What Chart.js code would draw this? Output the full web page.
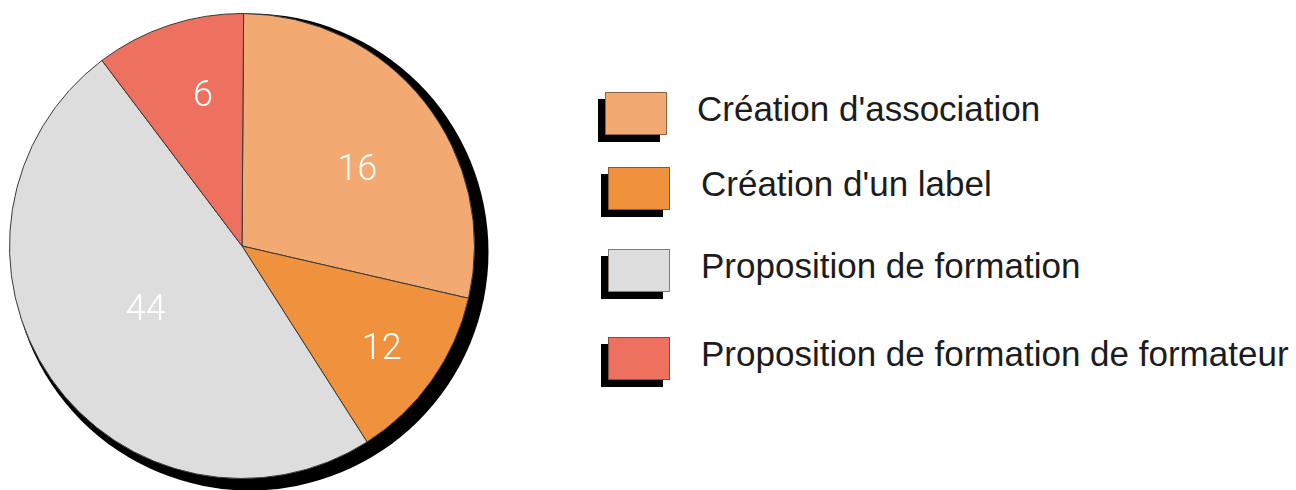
<!DOCTYPE html>
<html>
<head>
<meta charset="utf-8">
<script src="https://cdn.jsdelivr.net/npm/chart.js@4"></script>
<style>
  html, body { margin: 0; padding: 0; background: #ffffff; }
  body { width: 1296px; height: 490px; position: relative; overflow: hidden; }
  #pieWrap { position: absolute; left: 0; top: 0; width: 500px; height: 490px; }
  .lg-box { position: absolute; width: 62px; height: 43px; box-sizing: border-box;
            border: 1px solid rgba(60,40,30,0.55); box-shadow: -7px 7px 0 #000; }
  .lg-text { position: absolute; font-family: "Liberation Sans", Arial, sans-serif; font-size: 35px;
             line-height: 35px; color: #1c1c1c; white-space: nowrap; }
</style>
</head>
<body>
<div id="pieWrap"><canvas id="pie"></canvas></div>
<div id="legend"></div>
<script>
// ---- data ----
const categories = [
  "Création d'association",
  "Création d'un label",
  "Proposition de formation",
  "Proposition de formation de formateur"
];
// printed numbers on the slices
const valueLabels = [16, 12, 44, 6];
// slice sizes as drawn in the reference (share of the circle, %)
const sliceShares = [28.5, 12.35, 48.75, 10.4];
const sliceColors = ["#F2AA72", "#F0913D", "#DDDDDD", "#EE705E"];

// ---- styling (positions of in-slice labels and legend rows) ----
const labelRadiusFrac = [0.60, 0.74, 0.49, 0.68];
const labelAngleNudge = [4, 0.5, 2.4, 4];          // degrees
const legendRowTop = [92, 167, 249, 337];
const legendBoxLeft = [605, 608, 608, 608];
const legendTextLeft = [697, 701, 701, 701];

const shadowPlugin = {
  id: 'pieShadow',
  beforeDatasetsDraw(chart) {
    const arc = chart.getDatasetMeta(0).data[0];
    if (!arc) return;
    const ctx = chart.ctx;
    ctx.save();
    ctx.fillStyle = '#000';
    ctx.beginPath();
    ctx.arc(arc.x + 8, arc.y + 6, arc.outerRadius + 6, 0, Math.PI * 2);
    ctx.fill();
    ctx.restore();
  }
};

const sliceLabelPlugin = {
  id: 'sliceLabels',
  afterDatasetsDraw(chart) {
    const ctx = chart.ctx;
    const arcs = chart.getDatasetMeta(0).data;
    ctx.save();
    ctx.fillStyle = '#ffffff';
    ctx.font = '300 36px Roboto, "Liberation Sans", sans-serif';
    ctx.textAlign = 'center';
    ctx.textBaseline = 'alphabetic';
    arcs.forEach((arc, i) => {
      const mid = (arc.startAngle + arc.endAngle) / 2 + labelAngleNudge[i] * Math.PI / 180;
      const r = arc.outerRadius * labelRadiusFrac[i];
      const x = arc.x + Math.cos(mid) * r;
      const y = arc.y + Math.sin(mid) * r;
      const txt = String(valueLabels[i]);
      const m = ctx.measureText(txt);
      const h = m.actualBoundingBoxAscent - m.actualBoundingBoxDescent;
      ctx.fillText(txt, x, y + h / 2);
    });
    ctx.restore();
  }
};

new Chart(document.getElementById('pie'), {
  type: 'pie',
  data: {
    labels: categories,
    datasets: [{
      data: sliceShares,
      backgroundColor: sliceColors,
      borderColor: '#3a3a3a',
      borderWidth: 1
    }]
  },
  options: {
    responsive: true,
    maintainAspectRatio: false,
    animation: false,
    events: [],
    rotation: 0.4,
    layout: { padding: { left: 9, top: 13, right: 25, bottom: 11 } },
    plugins: { legend: { display: false }, tooltip: { enabled: false } }
  },
  plugins: [shadowPlugin, sliceLabelPlugin]
});

// ---- legend (HTML) ----
const legend = document.getElementById('legend');
categories.forEach((name, i) => {
  const box = document.createElement('div');
  box.className = 'lg-box';
  box.style.left = legendBoxLeft[i] + 'px';
  box.style.top = legendRowTop[i] + 'px';
  box.style.background = sliceColors[i];
  legend.appendChild(box);
  const t = document.createElement('div');
  t.className = 'lg-text';
  t.style.left = legendTextLeft[i] + 'px';
  t.style.top = (legendRowTop[i] - 1) + 'px';
  t.textContent = name;
  legend.appendChild(t);
});
</script>
</body>
</html>
